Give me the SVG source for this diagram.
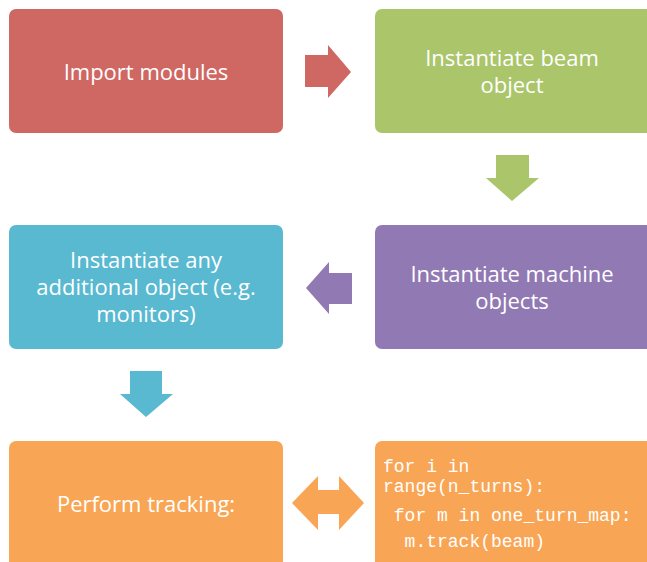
<svg xmlns="http://www.w3.org/2000/svg" width="647" height="562" viewBox="0 0 647 562">
<style>
.lbl{font-family:"Open Sans","Liberation Sans",sans-serif;font-size:22px;fill:#fff;text-anchor:middle}
.code{font-family:"Liberation Mono",monospace;font-size:18px;fill:#fff;white-space:pre}
</style>
<rect width="647" height="562" fill="#fff"/>
<g id="n-import"><rect x="9" y="9" width="274" height="124" rx="7" fill="#CF6762"/><text class="lbl" x="146" y="80">Import modules</text></g>
<g id="n-beam"><rect x="375" y="9" width="280" height="124" rx="7" fill="#AAC56A"/><text class="lbl" x="512" y="66">Instantiate beam</text><text class="lbl" x="512" y="93">object</text></g>
<g id="n-machine"><rect x="375" y="225" width="280" height="124" rx="7" fill="#9179B3"/><text class="lbl" x="512" y="282">Instantiate machine</text><text class="lbl" x="512" y="309">objects</text></g>
<g id="n-monitors"><rect x="9" y="225" width="274" height="124" rx="7" fill="#58B9D1"/><text class="lbl" x="146" y="268">Instantiate any</text><text class="lbl" x="146" y="295">additional object (e.g.</text><text class="lbl" x="146" y="322">monitors)</text></g>
<g id="n-track"><rect x="9" y="441" width="274" height="130" rx="7" fill="#F8A655"/><text class="lbl" x="146" y="512">Perform tracking:</text></g>
<g id="n-code"><rect x="375" y="441" width="280" height="130" rx="7" fill="#F8A655"/><text class="code" x="383" y="472">for i in</text><text class="code" x="383" y="492">range(n_turns):</text><text class="code" x="383" y="521"> for m in one_turn_map:</text><text class="code" x="383" y="547">  m.track(beam)</text></g>
<g id="connectors">
<polygon points="305,55 328,55 328,45 351,72 328,98 328,87 305,87" fill="#CF6762"/>
<polygon points="496,155 529,155 529,178 539,178 512,201 486,178 496,178" fill="#AAC56A"/>
<polygon points="352,273 329,273 329,262 306,288 329,314 329,304 352,304" fill="#9179B3"/>
<polygon points="130,371 162,371 162,394 173,394 146,417 120,394 130,394" fill="#58B9D1"/>
<polygon points="292,503 318,476 318,490 339,490 339,476 364,503 339,530 339,514 318,514 318,530" fill="#F8A655"/>
</g>
</svg>
